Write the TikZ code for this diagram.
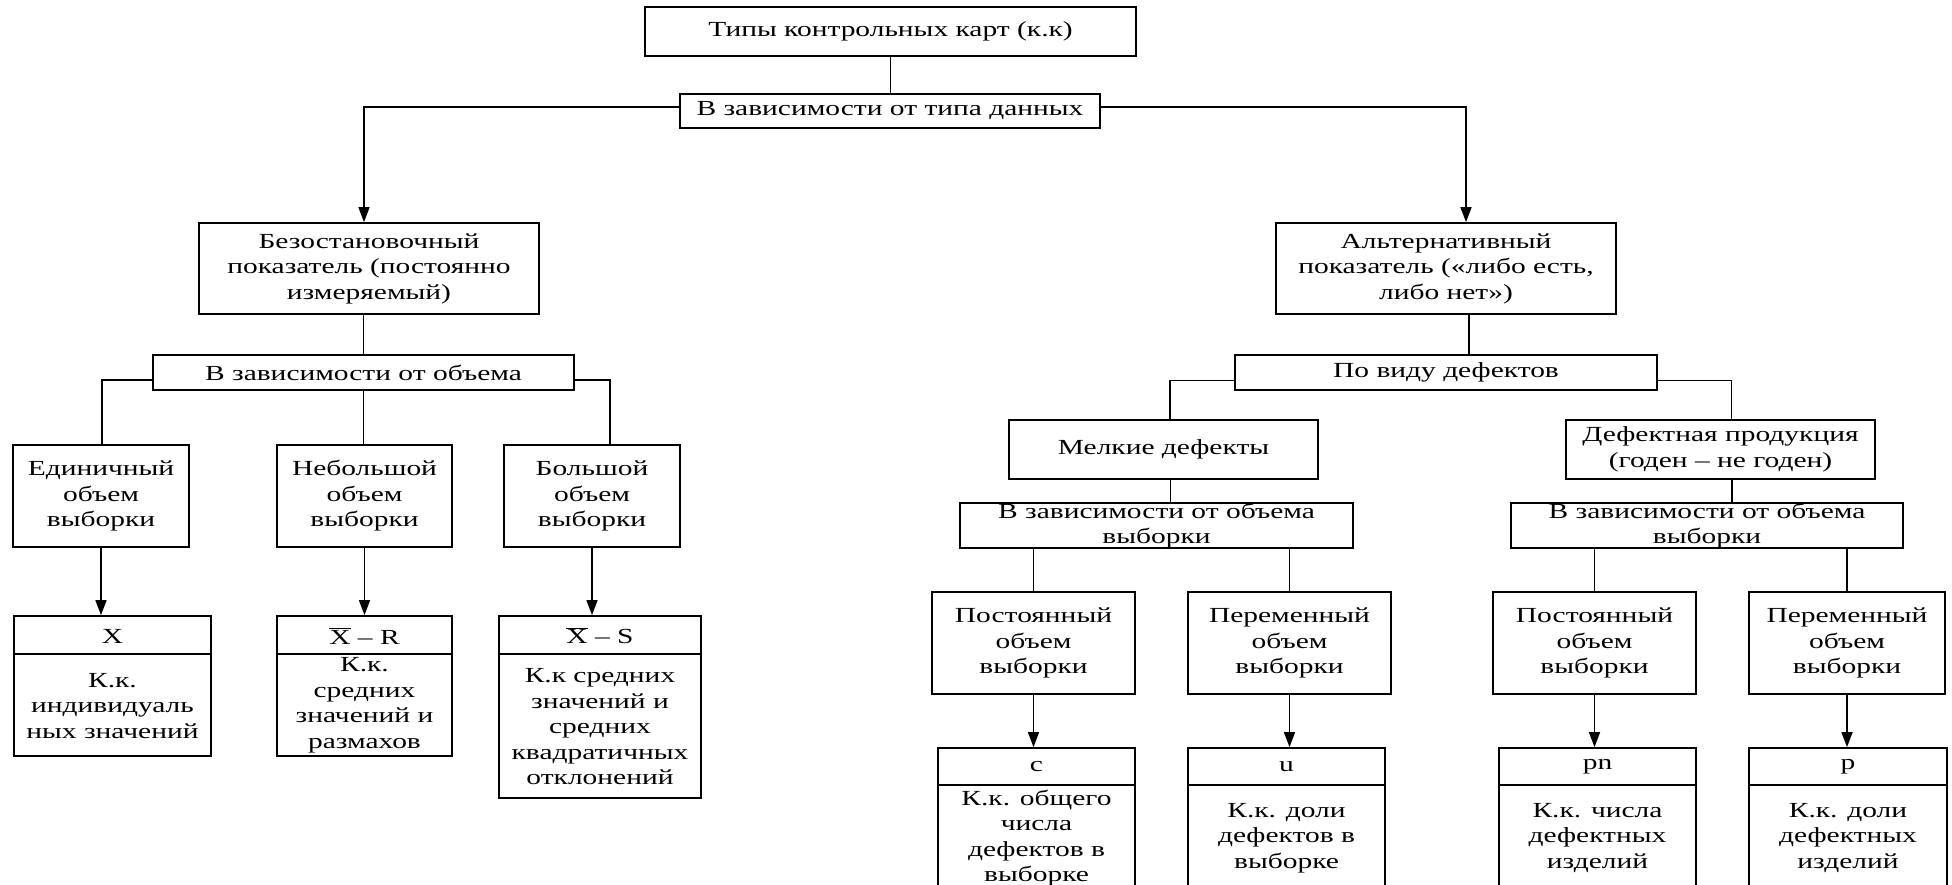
\documentclass[tikz,border=0pt]{standalone}
\usepackage{fontspec}
\setmainfont{Liberation Serif}[FakeStretch=1.37]
\usetikzlibrary{arrows.meta}
\newcommand\chartfont{\fontsize{21.5}{25.5}\selectfont}
\newcommand\xbar{$\overline{\hbox{X}}$}

\begin{document}
\begin{tikzpicture}[x=1pt,y=-1pt,
  box/.style={draw, line width=1.7pt, inner sep=0pt, align=center, font=\chartfont},
  txt/.style={inner sep=0pt, align=center, font=\chartfont},
  link/.style={line width=1.5pt},
  divider/.style={line width=1.7pt},
  arr/.style={line width=1.5pt, -{Triangle[length=15pt,width=11pt]}},
]
\useasboundingbox (0,0) rectangle (1952,885);
\clip (0,0) rectangle (1952,885);

% ---- top levels
\node[box, minimum width=491pt, minimum height=49pt] (tk) at (890.5,31.5) {Типы контрольных карт (к.к)};
\node[box, minimum width=420pt, minimum height=34pt] (td) at (890,111) {В зависимости от типа данных};
\draw[link] (tk.south) -- (tk.south |- td.north);

\node[box, minimum width=340pt, minimum height=91pt] (bz) at (369,268.5)
  {Безостановочный\\показатель (постоянно\\измеряемый)};
\node[box, minimum width=340pt, minimum height=91pt] (al) at (1446,268.5)
  {Альтернативный\\показатель («либо есть,\\либо нет»)};
\draw[arr] ([yshift=4pt]td.west) -| ([xshift=-5pt]bz.north);
\draw[arr] ([yshift=4pt]td.east) -| ([xshift=20pt]al.north);

% ---- left branch: continuous measure
\node[box, minimum width=421pt, minimum height=35pt] (bv) at (363.5,372.5) {В зависимости от объема};
\draw[link] (bv.north) -- (bv.north |- bz.south);

\node[box, minimum width=176pt, minimum height=102pt] (e1) at (101,496) {Единичный\\объем\\выборки};
\node[box, minimum width=175pt, minimum height=102pt] (e2) at (364.5,496) {Небольшой\\объем\\выборки};
\node[box, minimum width=176pt, minimum height=102pt] (e3) at (592,496) {Большой\\объем\\выборки};
\draw[link] (bv.south) -- (bv.south |- e2.north);
\draw[link] ([yshift=-7.5pt]bv.west) -| ([xshift=1pt]e1.north);
\draw[link] ([yshift=-7.5pt]bv.east) -| ([xshift=18pt]e3.north);

\node[box, minimum width=197pt, minimum height=140pt] (k1) at (112.5,686) {};
\node[box, minimum width=175pt, minimum height=140pt] (k2) at (364.5,686) {};
\node[box, minimum width=202pt, minimum height=182pt] (k3) at (600,707) {};
\draw[divider] (k1.west |- 0,654) -- (k1.east |- 0,654);
\draw[divider] (k2.west |- 0,654) -- (k2.east |- 0,654);
\draw[divider] (k3.west |- 0,654) -- (k3.east |- 0,654);
\node[txt] (k1h) at (112.5,636) {X};
\node[txt] (k2h) at (364.5,636) {\xbar{} – R};
\node[txt] (k3h) at (600,636) {\xbar{} – S};
\node[txt] (k1b) at (112.5,706) {К.к.\\индивидуаль\\ных значений};
\node[txt] (k2b) at (364.5,705) {К.к.\\средних\\значений и\\размахов};
\node[txt] (k3b) at (600,727) {К.к средних\\значений и\\средних\\квадратичных\\отклонений};
\draw[arr] (e1.south) -- (e1.south |- k1.north);
\draw[arr] (e2.south) -- (e2.south |- k2.north);
\draw[arr] (e3.south) -- (e3.south |- k3.north);

% ---- right branch: attribute measure
\node[box, minimum width=422pt, minimum height=35pt] (pd) at (1446,372.5) {По виду дефектов};
\draw[link] ([xshift=23pt]al.south) -- ([xshift=23pt]al.south |- pd.north);

\node[box, minimum width=309pt, minimum height=59pt] (md) at (1163.5,449.5) {Мелкие дефекты};
\node[box, minimum width=309pt, minimum height=59pt] (dp) at (1720.5,449.5) {Дефектная продукция\\(годен – не годен)};
\draw[link] ([yshift=-8pt]pd.west) -| ([xshift=6.5pt]md.north);
\draw[link] ([yshift=-8pt]pd.east) -| ([xshift=11pt]dp.north);

\node[box, minimum width=393pt, minimum height=43pt] (sl) at (1156.5,525.5) {В зависимости от объема\\выборки};
\node[box, minimum width=392pt, minimum height=43pt] (sr) at (1707,525.5) {В зависимости от объема\\выборки};
\draw[link] ([xshift=7pt]md.south) -- ([xshift=7pt]md.south |- sl.north);
\draw[link] ([xshift=11.5pt]dp.south) -- ([xshift=11.5pt]dp.south |- sr.north);

\node[box, minimum width=203pt, minimum height=102pt] (r1) at (1033.5,643) {Постоянный\\объем\\выборки};
\node[box, minimum width=203pt, minimum height=102pt] (r2) at (1289.5,643) {Переменный\\объем\\выборки};
\node[box, minimum width=203pt, minimum height=102pt] (r3) at (1594.5,643) {Постоянный\\объем\\выборки};
\node[box, minimum width=196pt, minimum height=102pt] (r4) at (1847,643) {Переменный\\объем\\выборки};
\draw[link] (r1.north) -- (r1.north |- sl.south);
\draw[link] (r2.north) -- (r2.north |- sl.south);
\draw[link] (r3.north) -- (r3.north |- sr.south);
\draw[link] (r4.north) -- (r4.north |- sr.south);

\node[box, minimum width=197pt, minimum height=143pt] (b1) at (1036.5,819.5) {};
\node[box, minimum width=197pt, minimum height=143pt] (b2) at (1286.5,819.5) {};
\node[box, minimum width=197pt, minimum height=143pt] (b3) at (1597.5,819.5) {};
\node[box, minimum width=198pt, minimum height=143pt] (b4) at (1848,819.5) {};
\draw[divider] (b1.west |- 0,785) -- (b1.east |- 0,785);
\draw[divider] (b2.west |- 0,785) -- (b2.east |- 0,785);
\draw[divider] (b3.west |- 0,785) -- (b3.east |- 0,785);
\draw[divider] (b4.west |- 0,785) -- (b4.east |- 0,785);
\node[txt] (b1h) at (1036.5,767) {c};
\node[txt] (b2h) at (1286.5,767) {u};
\node[txt] (b3h) at (1597.5,767) {pn};
\node[txt] (b4h) at (1848,767) {p};
\node[txt] (b1b) at (1036.5,838) {К.к. общего\\числа\\дефектов в\\выборке};
\node[txt] (b2b) at (1286.5,838) {К.к. доли\\дефектов в\\выборке};
\node[txt] (b3b) at (1597.5,838) {К.к. числа\\дефектных\\изделий};
\node[txt] (b4b) at (1848,838) {К.к. доли\\дефектных\\изделий};
\draw[arr] (r1.south) -- (r1.south |- b1.north);
\draw[arr] (r2.south) -- (r2.south |- b2.north);
\draw[arr] (r3.south) -- (r3.south |- b3.north);
\draw[arr] (r4.south) -- (r4.south |- b4.north);
\end{tikzpicture}
\end{document}
